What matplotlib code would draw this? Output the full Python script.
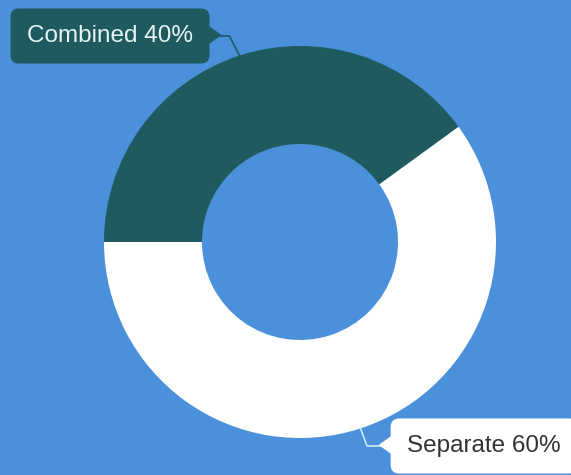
import numpy as np
import matplotlib
matplotlib.use("Agg")
import matplotlib.pyplot as plt

categories = ["Combined", "Separate"]
values = [40, 60]
colors = ["#1f5a5f", "#ffffff"]
label_colors = ["#e6f4f4", "#333333"]
line_colors = ["#1f5a5f", "#c8ecf4"]

BG = "#4a90da"
W, H = 571, 475
cx, cy = 300, H - 242
R = 196


def main():
    plt.rcParams["font.family"] = ["Liberation Sans", "DejaVu Sans"]
    fig = plt.figure(figsize=(W / 100, H / 100), dpi=100, facecolor=BG)
    ax = fig.add_axes([0, 0, 1, 1])
    ax.set_facecolor(BG)

    wedges, _ = ax.pie(values, colors=colors, startangle=180, counterclock=False,
                       center=(cx, cy), radius=R,
                       wedgeprops=dict(width=R * 0.5, linewidth=0))
    ax.set_xlim(0, W)
    ax.set_ylim(0, H)
    ax.set_aspect("equal")
    ax.axis("off")

    # label positions (text centre), leader line bend angles, pointer side
    text_pos = [(110, H - 36), (484, H - 446)]
    bend = [117, 110]
    side = [1, -1]
    anns = []
    for i, w in enumerate(wedges):
        mid = np.deg2rad((w.theta1 + w.theta2) / 2)
        px = cx + R * np.cos(mid)
        py = cy + R * np.sin(mid)
        a = ax.annotate(f"{categories[i]} {values[i]}%", xy=(px, py), xytext=text_pos[i],
                        ha="center", va="center", fontsize=17.5, color=label_colors[i],
                        bbox=dict(boxstyle="round,pad=0.68,rounding_size=0.35",
                                  fc=colors[i], ec="none"),
                        arrowprops=dict(arrowstyle="-", color=line_colors[i], lw=1.2,
                                        shrinkA=0, shrinkB=0,
                                        connectionstyle=f"angle,angleA=0,angleB={bend[i]},rad=0"))
        anns.append(a)

    # small pointer on the box towards the leader line
    fig.canvas.draw()
    for i, a in enumerate(anns):
        bb = a.get_bbox_patch().get_window_extent()
        ym = (bb.y0 + bb.y1) / 2
        if side[i] > 0:
            x0 = bb.x1 - 2
        else:
            x0 = bb.x0 + 2
        tip = x0 + side[i] * 14
        ax.fill([x0, tip, x0], [ym + 11, ym + 1, ym - 9], color=colors[i], lw=0, zorder=5)

    fig.savefig("out.png", dpi=100, facecolor=BG)


if __name__ == "__main__":
    main()
